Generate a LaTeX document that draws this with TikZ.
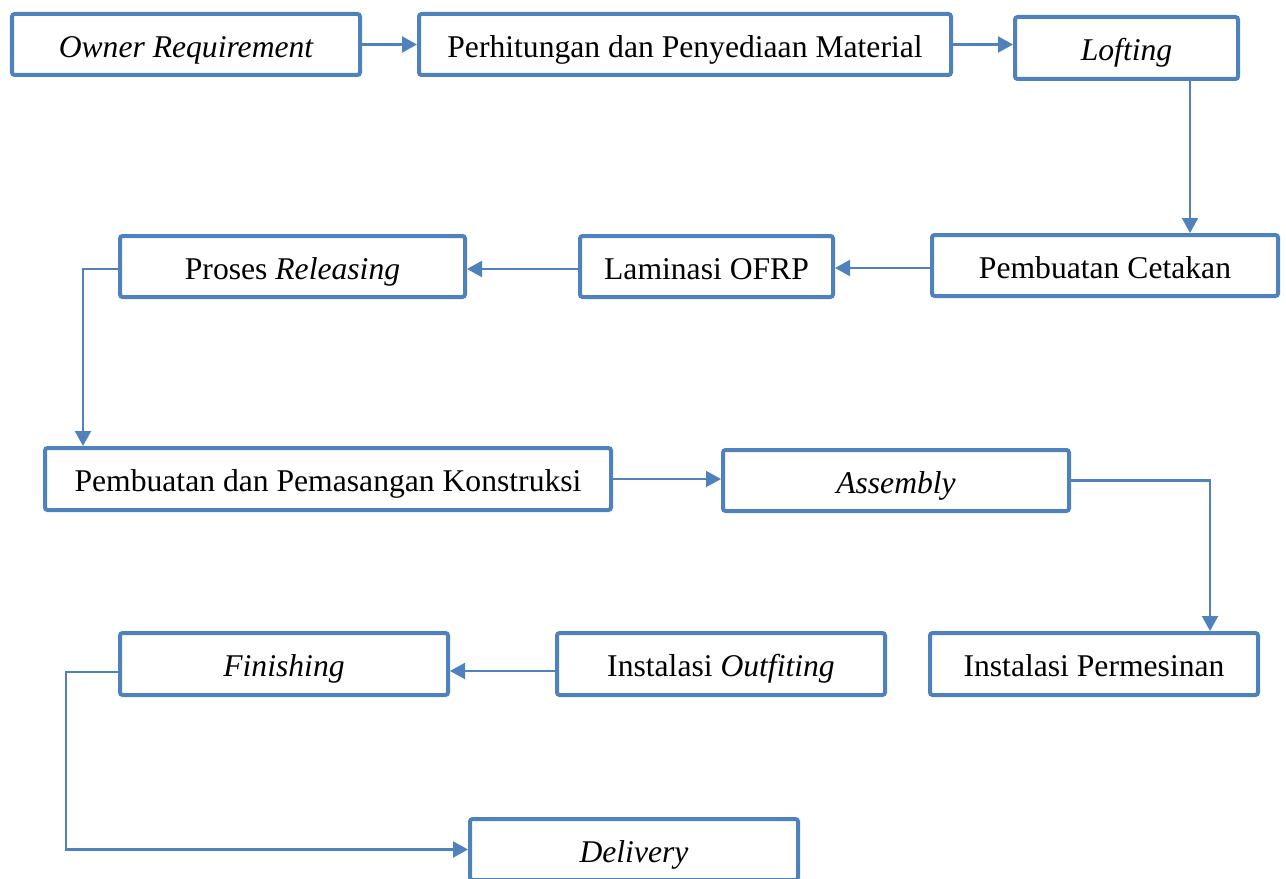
\documentclass[tikz,border=0pt]{standalone}
\usepackage{fontspec}
\setmainfont{Liberation Serif}
\usetikzlibrary{arrows.meta,positioning}
\definecolor{steel}{RGB}{79,129,189}
\tikzset{
  >={Triangle[length=3mm,width=3.2mm]},
  stage/.style={draw=steel,line width=0.08cm,rounded corners=1.5pt,fill=white,
    minimum height=1.22cm,minimum width=#1,align=center,inner sep=0pt,
    text height=16pt,text depth=1.5pt,
    font=\fontsize{18}{21}\selectfont},
  stage/.default=6.56cm,
  flow/.style={->,line width=1.2pt,draw=steel},
}
\begin{document}
\begin{tikzpicture}
    \useasboundingbox (0,0) rectangle (25.72,-17.58);
    % first row
    \node[stage=6.96cm] (own) at (3.72,-0.89) {\itshape Owner Requirement};
    \node[stage=10.64cm] (hitung) at (13.70,-0.89) {Perhitungan dan Penyediaan Material};
    \node[stage=4.46cm,minimum height=1.24cm] (loft) at (22.53,-0.96) {\itshape Lofting};
    % second row
    \node[stage=6.92cm] (cetak) at (22.10,-5.31) {Pembuatan Cetakan};
    \node[stage=5.06cm] (lamin) at (14.13,-5.33) {Laminasi OFRP};
    \node[stage=6.90cm] (rilis) at (5.85,-5.33) {Proses \textit{Releasing}};
    % third row
    \node[stage=11.32cm,minimum height=1.24cm] (konst) at (6.56,-9.58) {Pembuatan dan Pemasangan Konstruksi};
    \node[stage=6.92cm] (asm) at (17.92,-9.61) {\itshape Assembly};
    % fourth row
    \node[stage,minimum height=1.24cm] (mesin) at (21.88,-13.28) {Instalasi Permesinan};
    \node[stage,minimum height=1.24cm] (outfit) at (14.42,-13.28) {Instalasi \textit{Outfiting}};
    \node[stage,minimum height=1.24cm] (finish) at (5.68,-13.28) {\itshape Finishing};
    \node[stage] (deliv) at (12.68,-16.99) {\itshape Delivery};
    % connectors
    \draw[flow] (own) -- (hitung);
    \draw[flow] (hitung.east) -- (hitung.east -| loft.west);
    \draw[flow] ([xshift=12.7mm]loft.south) -- ([xshift=12.7mm]loft.south |- cetak.north);
    \draw[flow] ([yshift=-0.5mm]cetak.west) -- ([yshift=-0.5mm]cetak.west -| lamin.east);
    \draw[flow] ([yshift=-0.5mm]lamin.west) -- ([yshift=-0.5mm]lamin.west -| rilis.east);
    \draw[flow] ([yshift=-0.5mm]rilis.west) -| ([xshift=-49mm]konst.north);
    \draw[flow] (konst.east) -- (konst.east -| asm.west);
    \draw[flow] (asm.east) -| ([xshift=23.2mm]mesin.north);
    \draw[flow] ([yshift=-1.4mm]outfit.west) -- ([yshift=-1.4mm]outfit.west -| finish.east);
    \draw[flow] ([yshift=-1.6mm]finish.west) -- ++(-1.04,0) |- (deliv.west);
  \end{tikzpicture}
\end{document}
